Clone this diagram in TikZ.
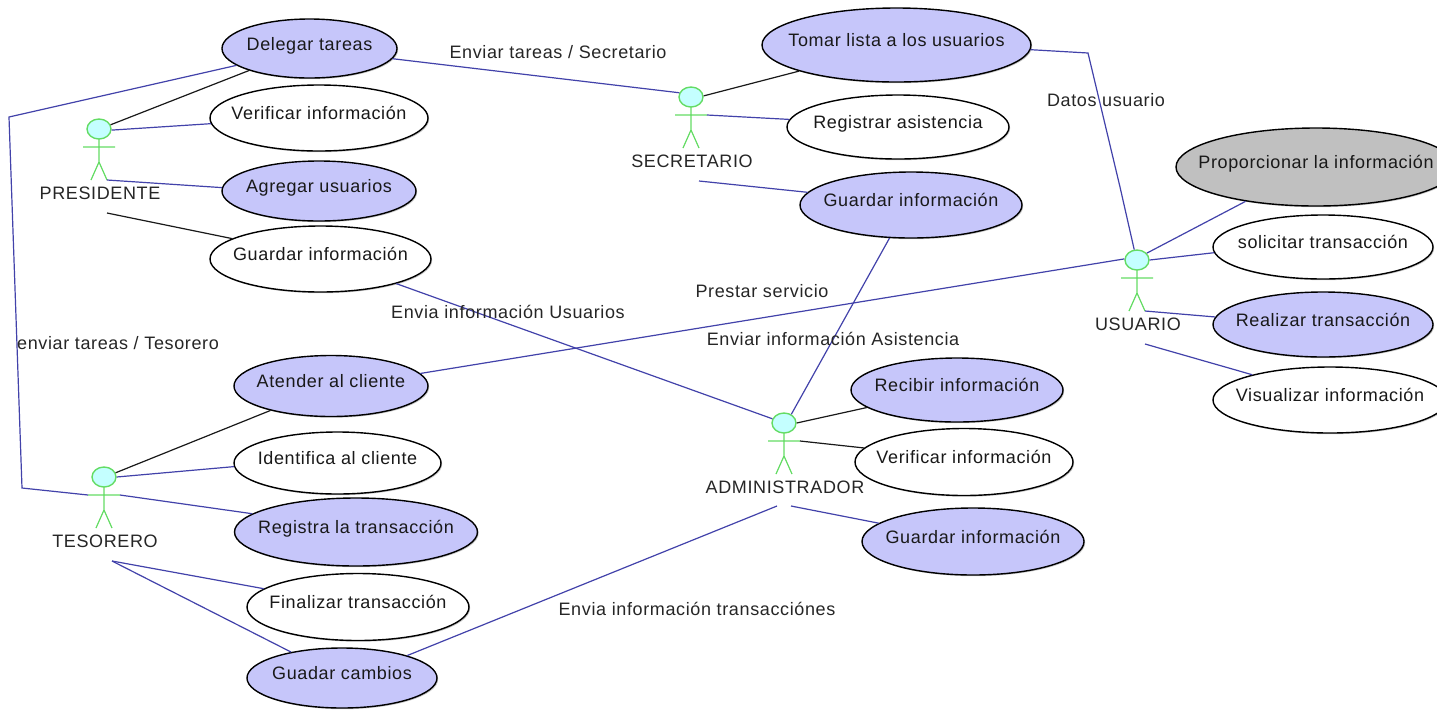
\documentclass[tikz,border=0pt]{standalone}
\usepackage{fontspec}
\setmainfont{Liberation Sans}[LetterSpace=3.5]
\usetikzlibrary{shapes.geometric,shadows}
\definecolor{ucblue}{RGB}{198,198,250}
\definecolor{ucgray}{RGB}{192,192,192}
\definecolor{linkblue}{RGB}{66,66,170}
\definecolor{actgreen}{RGB}{100,220,100}
\definecolor{headfill}{RGB}{196,255,255}
\newcommand{\uclabel}[1]{\makebox[0pt][c]{\raisebox{1.1pt}{#1}}}
\tikzset{
  usecase/.style={ellipse,draw=black,line width=.7pt,inner sep=0pt,text height=5pt,text depth=1pt,
    font=\fontsize{9pt}{10pt}\selectfont,fill=white,text=black!90,
    drop shadow={shadow xshift=.6pt,shadow yshift=-.6pt,opacity=.22,fill=black}},
  bluecase/.style={usecase,fill=ucblue},
  graycase/.style={usecase,fill=ucgray},
  actorhead/.style={ellipse,draw=actgreen,fill=headfill,line width=.7pt,inner sep=0pt,minimum width=12pt,minimum height=10pt},
  actorbody/.style={draw=actgreen,line width=.6pt},
  actorname/.style={font=\fontsize{9pt}{10pt}\selectfont,inner sep=0pt,text=black!85},
  linkb/.style={draw=linkblue,line width=.6pt},
  linkk/.style={draw=black!90,line width=.6pt},
  tag/.style={font=\fontsize{9pt}{10pt}\selectfont,inner sep=0pt,text=black!85}
}
\newcommand{\actor}[4]{%
  \node[actorhead] (#1) at (#2,#3) {};
  \begin{scope}[shift={(#2,#3)}]
    \coordinate (#1armr) at (16,18);
    \coordinate (#1arml) at (-16,18);
    \coordinate (#1hip) at (0,33);
    \coordinate (#1footl) at (-8,51);
    \coordinate (#1footr) at (8,51);
    \coordinate (#1neck) at (0,10);
    \node[actorname] (#1name) at (1,64) {#4};
  \end{scope}
  \draw[actorbody] (#1neck) -- (#1hip) (#1arml) -- (#1armr) (#1footl) -- (#1hip) -- (#1footr);
}
\begin{document}
\begin{tikzpicture}[x=.5pt,y=-.5pt]
\fill[white] (0,0) rectangle (1437,709);
\clip (0,0) rectangle (1437,709);
% use cases
\node[bluecase,minimum width=87.5pt,minimum height=29.5pt] (delegar) at (309.5,48.5) {\uclabel{Delegar tareas}};
\node[usecase,minimum width=109pt,minimum height=33pt] (verifP) at (319,118) {\uclabel{Verificar información}};
\node[bluecase,minimum width=97pt,minimum height=30pt] (agregar) at (319,191) {\uclabel{Agregar usuarios}};
\node[usecase,minimum width=110.5pt,minimum height=33pt] (guardP) at (320.5,259) {\uclabel{Guardar información}};
\node[bluecase,minimum width=134.5pt,minimum height=37pt] (tomar) at (896.5,45) {\uclabel{Tomar lista a los usuarios}};
\node[usecase,minimum width=111pt,minimum height=32pt] (registrar) at (898,127) {\uclabel{Registrar asistencia}};
\node[bluecase,minimum width=111pt,minimum height=33pt] (guardS) at (911,205) {\uclabel{Guardar información}};
\node[graycase,minimum width=140pt,minimum height=39pt] (proporc) at (1316,167) {\uclabel{Proporcionar la información}};
\node[usecase,minimum width=110pt,minimum height=32pt] (solicitar) at (1323,247) {\uclabel{solicitar transacción}};
\node[bluecase,minimum width=110pt,minimum height=32.5pt] (realizar) at (1323,324.5) {\uclabel{Realizar transacción}};
\node[usecase,minimum width=117pt,minimum height=33pt] (visual) at (1330,400) {\uclabel{Visualizar información}};
\node[bluecase,minimum width=106pt,minimum height=32pt] (recibir) at (957,390) {\uclabel{Recibir información}};
\node[usecase,minimum width=109pt,minimum height=33.5pt] (verifA) at (964,462) {\uclabel{Verificar información}};
\node[bluecase,minimum width=111pt,minimum height=33.5pt] (guardA) at (973,541.5) {\uclabel{Guardar información}};
\node[bluecase,minimum width=97pt,minimum height=30.5pt] (atender) at (331,386) {\uclabel{Atender al cliente}};
\node[usecase,minimum width=103.5pt,minimum height=31pt] (identif) at (337.5,463) {\uclabel{Identifica al cliente}};
\node[bluecase,minimum width=121.5pt,minimum height=34pt] (registra) at (356,532) {\uclabel{Registra la transacción}};
\node[usecase,minimum width=111pt,minimum height=33.5pt] (finalizar) at (358,607) {\uclabel{Finalizar transacción}};
\node[bluecase,minimum width=95pt,minimum height=30pt] (guadar) at (342,678) {\uclabel{Guadar cambios}};
% actors
\actor{pres}{99}{129}{PRESIDENTE}
\actor{secr}{691}{97}{SECRETARIO}
\actor{usua}{1137}{260}{USUARIO}
\actor{admi}{784}{423}{ADMINISTRADOR}
\actor{teso}{104}{477}{TESORERO}
% free ends and bends
\coordinate (presfree) at (107,213);
\coordinate (secrfree) at (699,181);
\coordinate (usuafree) at (1145,344);
\coordinate (tesofree) at (112,561);
\coordinate (admifreea) at (777,506);
\coordinate (admifreeb) at (791,506);
\coordinate (benda) at (9,117);
\coordinate (bendb) at (22,488);
\coordinate (bendc) at (1088,53);
\coordinate (bendd) at (1120,187);
% connectors
\draw[linkk] (pres.20) -- (delegar.200);
\draw[linkb] (pres.355) -- (verifP.183);
\draw[linkb] (presfootr) -- (agregar.178);
\draw[linkk] (presfree) -- (guardP.167.5);
\draw[linkb] (delegar.193.4) -- (benda) -- (bendb) -- (tesoarml);
\draw[linkb] (delegar.353) -- (secr.160);
\draw[linkk] (secr.5) -- (tomar.195.6);
\draw[linkb] (secrarmr) -- (registrar.176);
\draw[linkb] (secrfree) -- (guardS.173.4);
\draw[linkb] (guardS.237.5) -- (admi.50);
\draw[linkb] (guardP.342) -- (admi.160);
\draw[linkb] (tomar.358) -- (bendc) -- (bendd) -- (usua.105);
\draw[linkb] (usua.35) -- (proporc.206.6);
\draw[linkb] (usua.0) -- (solicitar.183.8);
\draw[linkb] (usuafootr) -- (realizar.176);
\draw[linkb] (usuafree) -- (visual.162.6);
\draw[linkb] (atender.8.5) -- (usua.175);
\draw[linkk] (teso.20) -- (atender.202.3);
\draw[linkb] (teso.0) -- (identif.182.8);
\draw[linkb] (tesoarmr) -- (registra.170.9);
\draw[linkb] (tesofree) -- (finalizar.169);
\draw[linkb] (tesofree) -- (guadar.153.9);
\draw[linkb] (guadar.19.5) -- (admifreea);
\draw[linkk] (admi.0) -- (recibir.191.4);
\draw[linkk] (admiarmr) -- (verifA.172.6);
\draw[linkb] (admifreeb) -- (guardA.169.3);
% connector labels
\node[tag] (t1) at (558,52) {Enviar tareas / Secretario};
\node[tag] (t2) at (1106,100) {Datos usuario};
\node[tag] (t3) at (508,312) {Envia información Usuarios};
\node[tag] (t4) at (762,291) {Prestar servicio};
\node[tag] (t5) at (833,339) {Enviar información Asistencia};
\node[tag] (t6) at (118,343) {enviar tareas / Tesorero};
\node[tag] (t7) at (697,609) {Envia información transacciónes};
\end{tikzpicture}
\end{document}
